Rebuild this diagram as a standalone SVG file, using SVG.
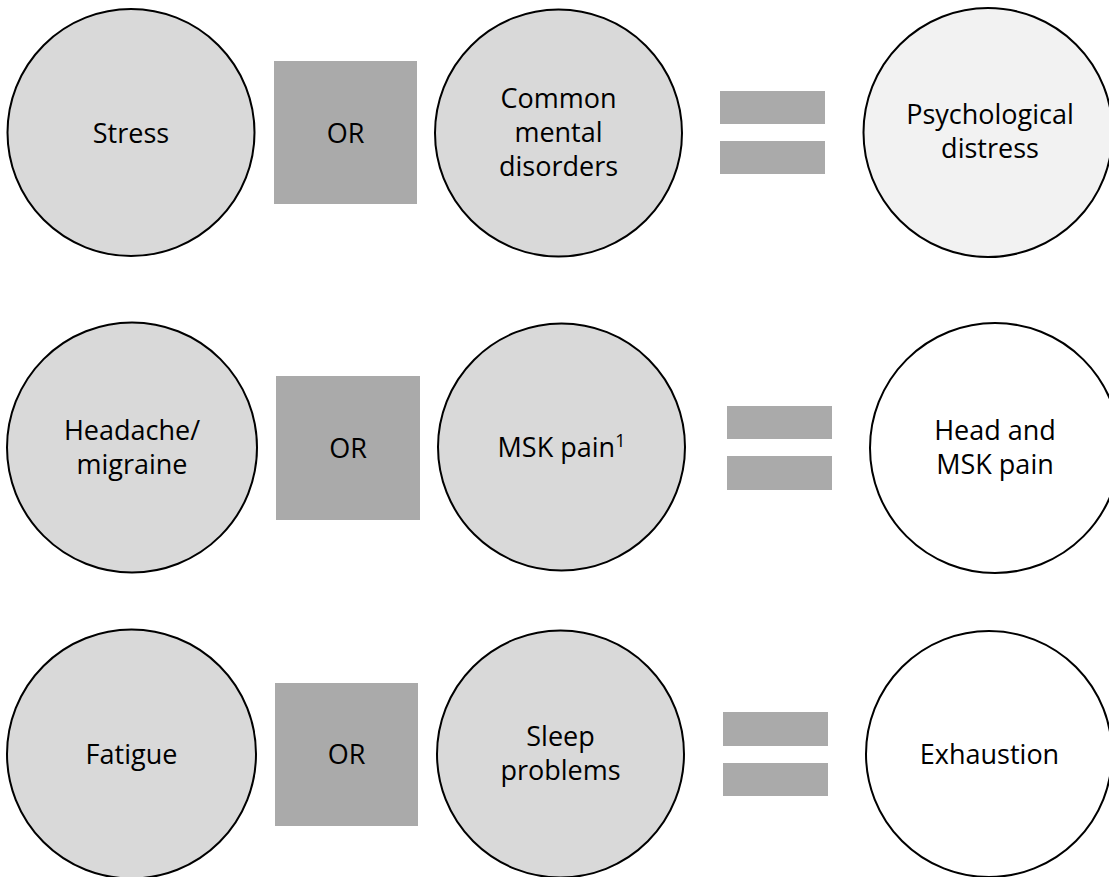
<svg xmlns="http://www.w3.org/2000/svg" width="1109" height="877" viewBox="0 0 1109 877">
<style>
.c{fill:#d9d9d9;stroke:#000;stroke-width:2}
.p{fill:#f2f2f2;stroke:#000;stroke-width:2}
.w{fill:#fff;stroke:#000;stroke-width:2}
.sq{fill:#aaaaaa}
.bar{fill:#aaaaaa}
text{font-family:"Open Sans","Liberation Sans",sans-serif;font-size:27px;fill:#000;text-anchor:middle}
</style>
<rect width="1109" height="877" fill="#fff"/>
<g id="connectors"/>
<!-- Row 1 -->
<g id="stress"><circle class="c" cx="131" cy="132.5" r="123.5"/><text x="131" y="142.5">Stress</text></g>
<g id="or1"><rect class="sq" x="274" y="61" width="143" height="143"/><text x="345.5" y="142.5">OR</text></g>
<g id="cmd"><circle class="c" cx="558.5" cy="133" r="123.5"/><text x="558.5" y="108">Common</text><text x="558.5" y="142">mental</text><text x="558.5" y="176">disorders</text></g>
<g id="eq1"><rect class="bar" x="720" y="91" width="105" height="33"/><rect class="bar" x="720" y="141" width="105" height="33"/></g>
<g id="psych"><circle class="p" cx="988" cy="132.5" r="124.5"/><text x="990" y="124">Psychological</text><text x="990" y="158">distress</text></g>
<!-- Row 2 -->
<g id="headache"><circle class="c" cx="132" cy="447.5" r="125"/><text x="132" y="440">Headache/</text><text x="132" y="474">migraine</text></g>
<g id="or2"><rect class="sq" x="276" y="376" width="144" height="144"/><text x="348" y="458">OR</text></g>
<g id="msk"><circle class="c" cx="561.5" cy="447" r="123.5"/><text x="561.5" y="457">MSK pain<tspan font-size="18" dy="-10">1</tspan></text></g>
<g id="eq2"><rect class="bar" x="727" y="406" width="105" height="33"/><rect class="bar" x="727" y="456" width="105" height="34"/></g>
<g id="headmsk"><circle class="w" cx="995" cy="448" r="125"/><text x="995" y="440">Head and</text><text x="995" y="474">MSK pain</text></g>
<!-- Row 3 -->
<g id="fatigue"><circle class="c" cx="131.5" cy="754" r="124.5"/><text x="131.5" y="764">Fatigue</text></g>
<g id="or3"><rect class="sq" x="275" y="683" width="143" height="143"/><text x="346.5" y="764">OR</text></g>
<g id="sleep"><circle class="c" cx="560.5" cy="754" r="123.5"/><text x="560.5" y="746">Sleep</text><text x="560.5" y="780">problems</text></g>
<g id="eq3"><rect class="bar" x="723" y="712" width="105" height="34"/><rect class="bar" x="723" y="763" width="105" height="33"/></g>
<g id="exhaustion"><circle class="w" cx="989" cy="754" r="123"/><text x="989.5" y="764">Exhaustion</text></g>
</svg>
